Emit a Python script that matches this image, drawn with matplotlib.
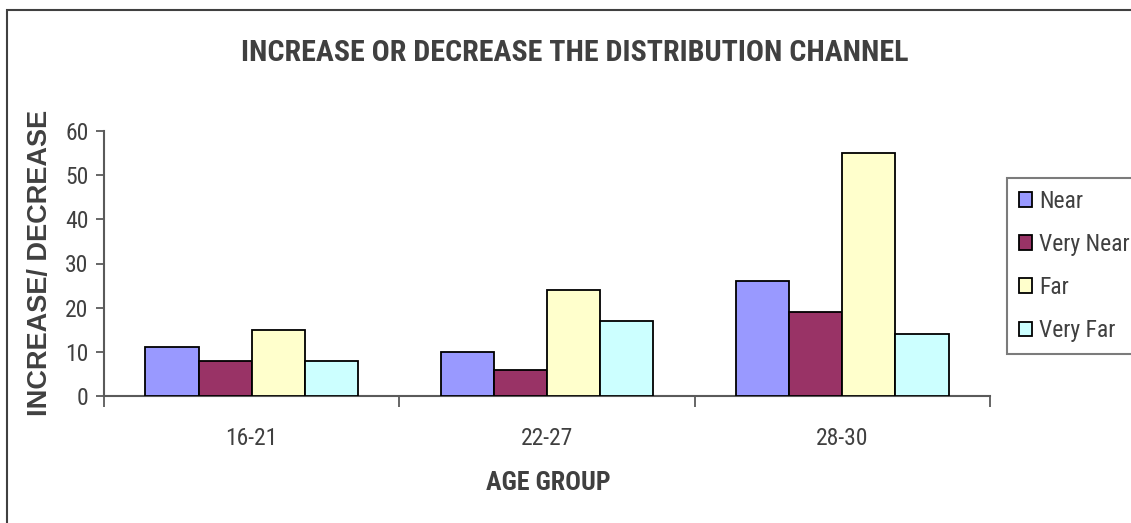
import numpy as np
import matplotlib
matplotlib.use("Agg")
import matplotlib.pyplot as plt
from matplotlib.patches import Rectangle

# ======================
# Data
# ======================
age_groups = ["16-21", "22-27", "28-30"]
series_names = ["Near", "Very Near", "Far", "Very Far"]
near = [11, 10, 26]
very_near = [8, 6, 19]
far = [15, 24, 55]
very_far = [8, 17, 14]
y_ticks = [0, 10, 20, 30, 40, 50, 60]

# ======================
# Styles
# ======================
NARROW = ["Liberation Sans Narrow", "Roboto Condensed", "Archivo Narrow",
          "Liberation Sans", "DejaVu Sans"]
WIDE = ["Liberation Sans", "DejaVu Sans"]
TEXT_COLOR = "#404040"
AXIS_COLOR = "#5a5a5a"
BAR_COLORS = ["#9999FF", "#993366", "#FFFFCC", "#CCFFFF"]
BAR_WIDTH = 0.18

W, H = 1131, 523
fig = plt.figure(figsize=(W / 100, H / 100), dpi=100)
fig.patch.set_facecolor("white")

# plot area in pixel terms
left, right, bottom, top = 104, 990, 396, 131
ax = fig.add_axes([left / W, 1 - bottom / H, (right - left) / W, (bottom - top) / H])

x = np.arange(len(age_groups))
values = [near, very_near, far, very_far]
handles = []
for i, (name, vals) in enumerate(zip(series_names, values)):
    offset = (i - 1.5) * BAR_WIDTH
    b = ax.bar(x + offset, vals, BAR_WIDTH, color=BAR_COLORS[i],
               edgecolor="black", linewidth=1.3, label=name, zorder=3)
    handles.append(b)

ax.set_xlim(-0.5, len(age_groups) - 0.5)
ax.set_ylim(0, 60)
ax.set_yticks(y_ticks)
ax.set_yticklabels([str(t) for t in y_ticks], family=NARROW, fontsize=17, color=TEXT_COLOR)

# category labels at group centres, tick marks on the group boundaries
ax.set_xticks(x)
ax.set_xticklabels(age_groups, family=NARROW, fontsize=17, color=TEXT_COLOR)
ax.set_xticks(np.arange(-0.5, len(age_groups)), minor=True)
ax.tick_params(axis="x", which="major", length=0, pad=22)
ax.tick_params(axis="x", which="minor", length=8, width=1.3, color=AXIS_COLOR, direction="out")
ax.tick_params(axis="y", length=6, width=1.3, color=AXIS_COLOR, direction="out", pad=5)

for side in ["top", "right"]:
    ax.spines[side].set_visible(False)
for side in ["left", "bottom"]:
    ax.spines[side].set_color(AXIS_COLOR)
    ax.spines[side].set_linewidth(1.5)

# ======================
# Titles
# ======================
fig.text(575 / W, 1 - 53 / H, "INCREASE OR DECREASE THE DISTRIBUTION CHANNEL",
         ha="center", va="center", fontsize=21.6, weight="bold",
         family=NARROW, color=TEXT_COLOR)
fig.text(548 / W, 1 - 483 / H, "AGE GROUP", ha="center", va="center",
         fontsize=18.7, weight="bold", family=NARROW, color=TEXT_COLOR)
fig.text(40 / W, 1 - 263 / H, "INCREASE/ DECREASE", ha="center", va="center",
         rotation=90, fontsize=19.5, weight="bold", family=WIDE, color=TEXT_COLOR)

# ======================
# Legend
# ======================
leg = fig.legend(handles=handles, labels=series_names, loc="upper left",
                 bbox_to_anchor=(1007 / W, 1 - 178 / H), bbox_transform=fig.transFigure,
                 prop={"family": NARROW, "size": 17}, frameon=True, fancybox=False,
                 edgecolor=AXIS_COLOR, borderaxespad=0, handlelength=0.55,
                 handleheight=0.55, handletextpad=0.3, labelspacing=0.85,
                 borderpad=0.5)
leg.get_frame().set_linewidth(1.5)
for t in leg.get_texts():
    t.set_color(TEXT_COLOR)
for p in leg.get_patches():
    p.set_linewidth(1.3)

# outer chart border (runs off the right and bottom edges)
fig.patches.append(Rectangle((7 / W, -0.1), 1.2, (1 - 10.5 / H) + 0.1,
                             transform=fig.transFigure, fill=False,
                             edgecolor=TEXT_COLOR, linewidth=1.5))

fig.savefig("out.png", dpi=100)
